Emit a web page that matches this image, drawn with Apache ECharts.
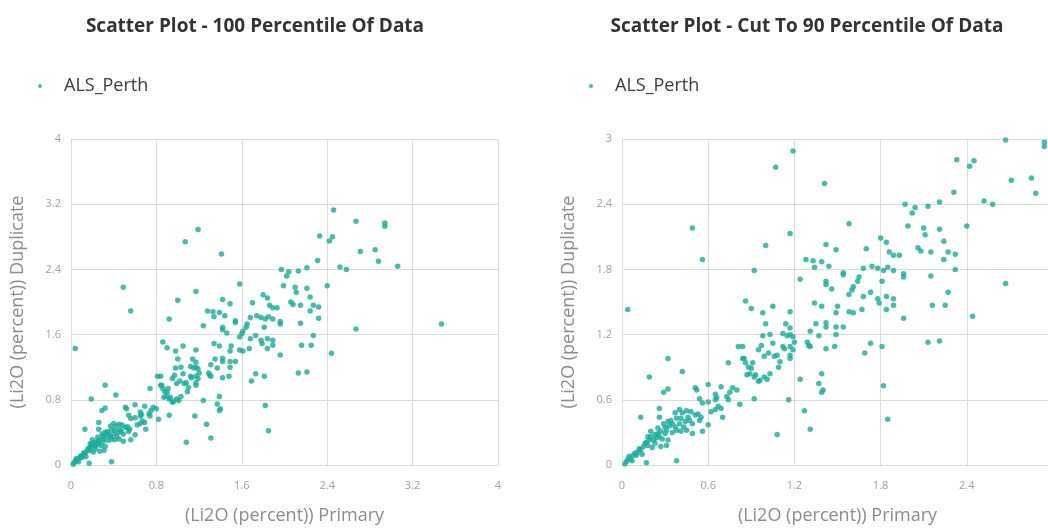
<!DOCTYPE html>
<html>
<head>
<meta charset="utf-8">
<script src="https://cdn.jsdelivr.net/npm/echarts@6/dist/echarts.min.js"></script>
<style>
  html, body { margin: 0; padding: 0; background: #ffffff; }
  #chart { width: 1048px; height: 529px; }
</style>
</head>
<body>
<div id="chart"></div>
<script>
// Li2O assay pairs: primary result (x) and its duplicate (y), in percent
const primary = [
  2.67, 2.94, 2.94, 1.19, 1.07, 2.33, 2.42, 2.45, 1.41, 2.71, 2.85, 2.88, 2.31, 2.52, 2.58, 1.97, 2.04, 2.02, 2.13, 2.21,
  1.99, 2.10, 2.11, 2.21, 2.40, 1.58, 0.49, 0.56, 1.17, 1.00, 1.42, 1.49, 1.70, 1.80, 1.84, 1.86, 1.89, 1.93, 2.06, 2.08,
  2.15, 2.24, 2.27, 2.32, 2.24, 2.32, 2.15, 2.27, 2.16, 2.25, 2.44, 2.67, 0.04, 0.92, 1.24, 1.28, 1.33, 1.34, 1.39, 1.44,
  1.54, 1.54, 1.68, 1.74, 1.78, 1.82, 1.85, 1.89, 1.96, 1.96, 1.65, 1.64, 1.61, 1.60, 1.42, 1.42, 1.46, 1.81, 1.78, 1.84,
  1.89, 1.89, 1.84, 1.73, 1.68, 1.58, 0.86, 0.90, 0.98, 1.05, 1.17, 1.34, 1.39, 1.50, 1.49, 1.58, 1.61, 1.67, 1.79, 1.96,
  1.00, 1.14, 1.17, 1.35, 1.42, 1.54, 1.12, 1.15, 1.17, 1.19, 1.03, 1.05, 1.12, 1.17, 1.20, 1.29, 1.30, 1.42, 1.48, 1.49,
  1.37, 1.31, 1.08, 1.17, 1.69, 1.73, 1.81, 2.13, 2.21, 1.82, 1.85, 1.24, 1.39, 1.37, 1.40, 1.39, 1.16, 1.27, 1.31, 1.08,
  0.92, 0.98, 1.13, 1.19, 1.17, 1.10, 1.09, 1.03, 0.99, 0.95, 0.92, 0.87, 0.88, 0.86, 0.91, 0.81, 0.84, 0.74, 1.02, 0.99,
  1.42, 1.49, 1.31, 0.84, 0.95, 0.97, 1.06, 1.01, 0.32, 0.42, 0.19, 0.29, 0.32, 0.51, 0.52, 0.60, 0.85, 0.90, 0.89, 0.93,
  0.96, 0.69, 0.77, 0.75, 0.80, 0.65, 0.66, 0.65, 0.54, 0.60, 0.56, 0.82, 0.74, 0.73, 0.69, 0.65, 0.62, 0.67, 0.60, 0.70,
  0.55, 0.54, 0.56, 0.49, 0.45, 0.41, 0.13, 0.26, 0.26, 0.38, 0.17, 0.40, 0.42, 0.45, 0.48, 0.51, 0.53, 0.46, 0.41, 0.37,
  0.38, 0.34, 0.32, 0.35, 0.33, 0.30, 0.31, 0.27, 0.25, 0.23, 0.20, 0.24, 0.19, 0.17, 0.18, 0.15, 0.12, 0.11, 0.09, 0.08,
  0.05, 0.04, 0.03, 0.06, 0.10, 0.13, 0.16, 0.22, 0.26, 0.30, 0.37, 0.40, 0.44, 0.47, 0.49, 0.38, 0.32, 0.31, 0.27, 0.23,
  0.18, 0.20, 0.25, 0.29, 0.02, 0.07, 0.14, 0.21, 0.28, 0.35, 0.43, 2.46, 3.06, 3.47
];
const duplicate = [
  2.99, 2.97, 2.93, 2.89, 2.74, 2.81, 2.75, 2.80, 2.59, 2.62, 2.64, 2.50, 2.51, 2.43, 2.40, 2.40, 2.37, 2.32, 2.38, 2.42,
  2.20, 2.18, 2.12, 2.17, 2.20, 2.22, 2.18, 1.89, 2.13, 2.02, 2.03, 1.98, 1.99, 2.09, 2.05, 1.96, 1.93, 1.93, 2.00, 1.97,
  1.96, 2.06, 1.96, 1.94, 1.89, 1.80, 1.74, 1.59, 1.47, 1.47, 1.37, 1.67, 1.43, 1.79, 1.71, 1.89, 1.88, 1.82, 1.87, 1.83,
  1.77, 1.75, 1.81, 1.83, 1.81, 1.79, 1.82, 1.79, 1.76, 1.73, 1.73, 1.69, 1.64, 1.61, 1.69, 1.66, 1.62, 1.69, 1.53, 1.55,
  1.53, 1.47, 1.43, 1.59, 1.55, 1.57, 1.51, 1.44, 1.40, 1.46, 1.41, 1.49, 1.46, 1.46, 1.40, 1.41, 1.40, 1.43, 1.49, 1.35,
  1.30, 1.30, 1.26, 1.30, 1.31, 1.27, 1.21, 1.19, 1.20, 1.18, 1.20, 1.12, 1.09, 1.09, 1.13, 1.13, 1.10, 1.07, 1.09, 1.20,
  1.19, 1.23, 1.01, 1.01, 1.03, 1.12, 1.09, 1.13, 1.14, 0.73, 0.42, 0.79, 0.84, 0.75, 0.69, 0.67, 0.60, 0.50, 0.33, 0.28,
  0.61, 1.19, 1.07, 1.06, 0.98, 0.95, 0.90, 0.84, 0.81, 0.77, 0.81, 0.83, 0.90, 0.94, 0.94, 1.09, 1.09, 0.94, 1.03, 1.00,
  1.27, 1.27, 1.09, 0.98, 1.06, 1.10, 1.00, 0.79, 0.98, 0.86, 0.81, 0.67, 0.70, 0.71, 0.69, 0.74, 0.98, 0.89, 0.84, 0.83,
  0.78, 0.72, 0.71, 0.67, 0.69, 0.65, 0.62, 0.60, 0.61, 0.58, 0.57, 0.56, 0.60, 0.63, 0.52, 0.51, 0.49, 0.54, 0.37, 0.44,
  0.44, 0.41, 0.31, 0.29, 0.32, 0.31, 0.44, 0.52, 0.44, 0.04, 0.02, 0.51, 0.48, 0.50, 0.49, 0.46, 0.47, 0.44, 0.43, 0.48,
  0.43, 0.41, 0.40, 0.38, 0.36, 0.35, 0.32, 0.31, 0.29, 0.28, 0.26, 0.25, 0.23, 0.21, 0.18, 0.17, 0.15, 0.12, 0.11, 0.09,
  0.08, 0.05, 0.03, 0.06, 0.09, 0.14, 0.20, 0.23, 0.26, 0.29, 0.35, 0.38, 0.40, 0.41, 0.38, 0.32, 0.23, 0.18, 0.17, 0.20,
  0.26, 0.31, 0.34, 0.38, 0.01, 0.04, 0.10, 0.16, 0.24, 0.30, 0.35, 3.13, 2.44, 1.73
];

// Axis settings for the two panels: full range, and range cut at the 90th percentile
const fullRange = { max: 4, interval: 0.8 };
const cutRange = { max: 3, interval: 0.6 };

const panelTitles = ['Scatter Plot - 100 Percentile Of Data', 'Scatter Plot - Cut To 90 Percentile Of Data'];
const seriesName = 'ALS_Perth';
const xAxisName = '(Li2O (percent)) Primary';
const yAxisName = '(Li2O (percent)) Duplicate';

const points = primary.map((x, i) => [x, duplicate[i]]);

const pointColor = '#19ab98';
const gridColor = '#dcdcdc';
const font = '"Open Sans", "Noto Sans", sans-serif';

function valueAxis(range, gridIndex, isX) {
  return {
    type: 'value',
    gridIndex: gridIndex,
    min: 0,
    max: range.max,
    interval: range.interval,
    name: isX ? xAxisName : yAxisName,
    nameLocation: 'middle',
    nameGap: isX ? 42 : 44,
    nameTextStyle: { color: '#8c8c8c', fontSize: 18, fontFamily: font },
    axisLine: { show: true, lineStyle: { color: gridColor } },
    axisTick: { show: false },
    axisLabel: { color: '#a0a0a0', fontSize: 11, fontFamily: font, margin: isX ? 15 : 10,
                 showMinLabel: true, showMaxLabel: true, hideOverlap: false },
    splitLine: { show: true, lineStyle: { color: gridColor, width: 1 } }
  };
}

function legendAt(left) {
  return {
    left: left, top: 72, icon: 'circle', itemWidth: 4, itemHeight: 4,
    data: [{ name: seriesName }],
    textStyle: { fontSize: 18, color: '#3a3a3a', fontFamily: font, padding: [0, 0, 0, 17] }
  };
}

function titleAt(text, center) {
  return {
    text: text, left: center, top: 12, textAlign: 'center',
    textStyle: { fontSize: 19, fontWeight: 'bold', color: '#333', fontFamily: font }
  };
}

const chart = echarts.init(document.getElementById('chart'), null, { renderer: 'canvas' });
chart.setOption({
  backgroundColor: '#ffffff',
  animation: false,
  title: [titleAt(panelTitles[0], 250), titleAt(panelTitles[1], 802)],
  legend: [legendAt(33), legendAt(584)],
  grid: [
    { left: 71, top: 139, width: 427, height: 326, outerBoundsMode: 'none', containLabel: false },
    { left: 622, top: 139, width: 431, height: 326, outerBoundsMode: 'none', containLabel: false }
  ],
  xAxis: [valueAxis(fullRange, 0, true), valueAxis(cutRange, 1, true)],
  yAxis: [valueAxis(fullRange, 0, false), valueAxis(cutRange, 1, false)],
  series: [
    { name: seriesName, type: 'scatter', xAxisIndex: 0, yAxisIndex: 0, data: points,
      symbolSize: 5.5, clip: true, itemStyle: { color: pointColor } },
    { name: seriesName, type: 'scatter', xAxisIndex: 1, yAxisIndex: 1, data: points,
      symbolSize: 5.5, clip: true, itemStyle: { color: pointColor } }
  ]
});
</script>
</body>
</html>
